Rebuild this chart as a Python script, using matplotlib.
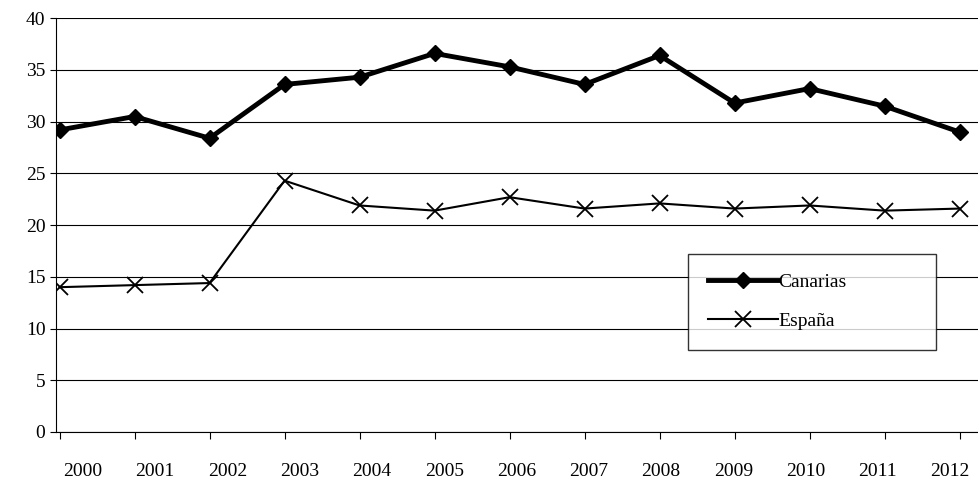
import matplotlib.pyplot as plt
import numpy as np

plt.rcParams['font.family'] = ['Liberation Serif', 'DejaVu Serif']

years = ['2000', '2001', '2002', '2003', '2004', '2005', '2006',
         '2007', '2008', '2009', '2010', '2011', '2012']
canarias = [29.2, 30.5, 28.4, 33.6, 34.3, 36.6, 35.3, 33.6, 36.4, 31.8, 33.2, 31.5, 29.0]
espana = [14.0, 14.2, 14.4, 24.3, 21.9, 21.4, 22.7, 21.6, 22.1, 21.6, 21.9, 21.4, 21.6]

fig = plt.figure(figsize=(9.79, 4.8), dpi=100)
ax_left, ax_w = 0.057, 0.95
ax = fig.add_axes([ax_left, 0.1, ax_w, 0.862])

x = np.arange(len(years))
ax.plot(x, canarias, color='black', lw=3.5, marker='D', ms=8, label='Canarias')
ax.plot(x, espana, color='black', lw=1.5, marker='x', ms=11, mew=1.3, label='España')

ax.set_ylim(0, 40)
ax.set_yticks(range(0, 41, 5))
ax.set_xlim(-0.05, 12.35)
ax.set_xticks(x)
ax.set_xticklabels([])
ax.tick_params(axis='x', length=5, direction='out')
ax.tick_params(axis='y', length=4, labelsize=14)
# category labels sit between the ticks, as in the original spreadsheet chart
for i, y in enumerate(years):
    px = 83 + 72.25 * i
    fx = (px / 979 - ax_left) / ax_w
    ax.text(fx, -0.075, y, transform=ax.transAxes,
            ha='center', va='top', fontsize=14)
ax.grid(axis='y', color='black', lw=0.8)
ax.set_axisbelow(True)
for s in ['top', 'right']:
    ax.spines[s].set_visible(False)

leg = ax.legend(loc='upper left', bbox_to_anchor=(0.68, 0.0, 0.266, 0.43), mode='expand',
                fontsize=14, frameon=True, fancybox=False, edgecolor='black',
                handlelength=3.6, handletextpad=0.05, borderpad=1.0, labelspacing=1.1,
                borderaxespad=0)
leg.get_frame().set_linewidth(1.0)

fig.savefig('out.png', dpi=100)
